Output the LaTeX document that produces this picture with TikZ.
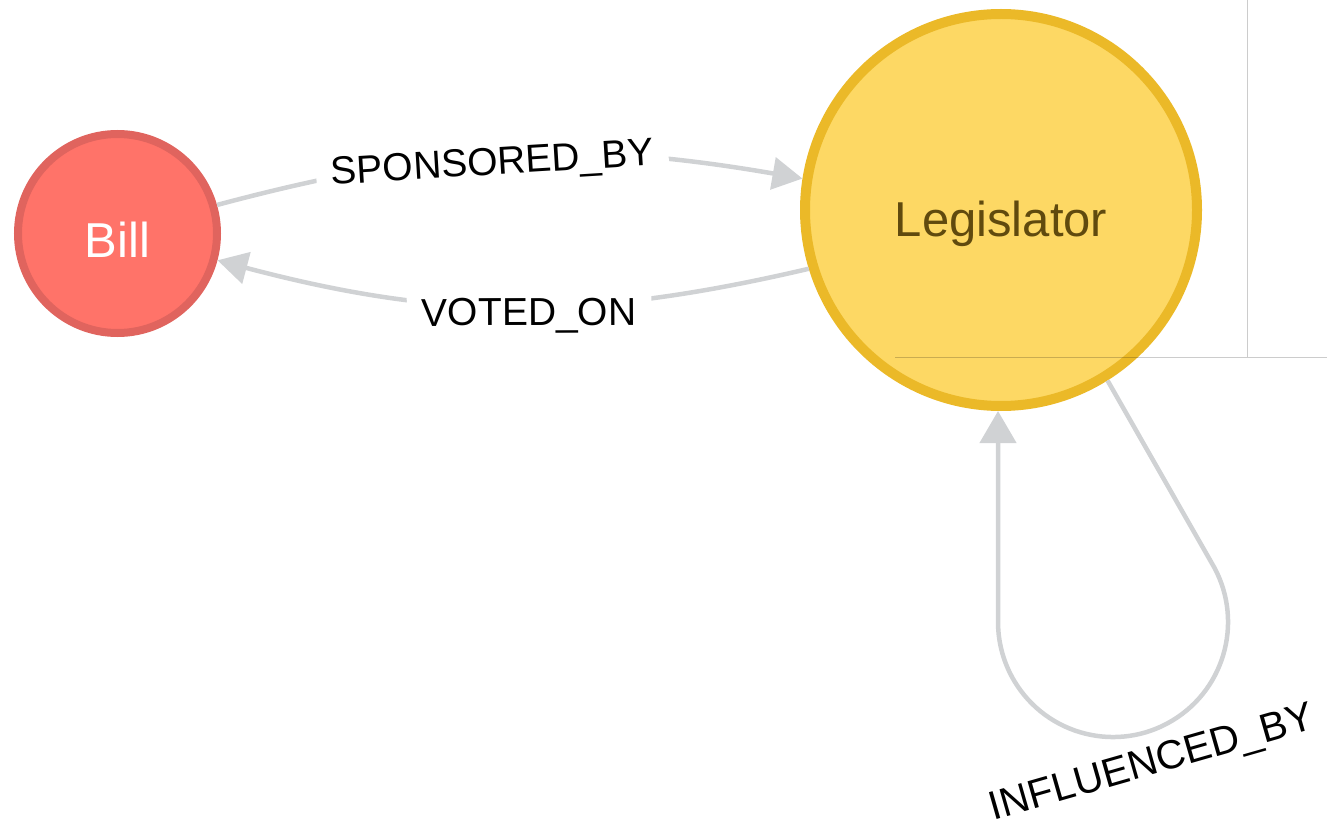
\documentclass[tikz,border=0pt]{standalone}
\usepackage{fontspec}
\setmainfont{Liberation Sans}
\usetikzlibrary{arrows.meta}
\definecolor{billfill}{HTML}{FF7369}
\definecolor{billdraw}{HTML}{E0645E}
\definecolor{legfill}{HTML}{FDD864}
\definecolor{legdraw}{HTML}{EBB928}
\definecolor{legtext}{HTML}{604A0E}
\definecolor{edgecol}{HTML}{D0D2D4}
\begin{document}
\begin{tikzpicture}[x=1pt,y=1pt,
  billnode/.style={circle, inner sep=0pt, draw=billdraw, fill=billfill, line width=8pt,
    minimum size=199pt, text=white, font=\fontsize{49}{58}\selectfont,
    text height=48pt, text depth=0pt},
  legnode/.style={circle, inner sep=0pt, draw=legdraw, fill=legfill, line width=10pt,
    minimum size=392pt, text=legtext, font=\fontsize{49}{58}\selectfont,
    text height=54pt, text depth=0pt},
  linkline/.style={draw=edgecol, line width=4.5pt},
  tipA/.style={-{Triangle[length=30pt,width=32pt]}},
  tipB/.style={-{Triangle[length=32pt,width=36pt]}},
  elabel/.style={font=\fontsize{39}{47}\selectfont, text=black, fill=white,
    inner xsep=15pt, inner ysep=2pt, text height=28pt, text depth=0pt},
  guide/.style={draw=black, draw opacity=0.2, line width=1pt}]
\useasboundingbox (0,0) rectangle (1327,-826);
\node[billnode] (bill) at (117.5,-233.5) {Bill};
\node[legnode] (leg) at (1001,-210) {Legislator};
\draw[linkline, tipA] (bill.16) to[bend left=12.4]
  node[elabel, sloped, pos=0.47, yshift=-5pt] (lsp) {SPONSORED\_BY} (leg.171);
\draw[linkline, tipA] (leg.197) to[bend left=14]
  node[elabel, sloped, pos=0.47, yshift=-5pt] (lvo) {VOTED\_ON} (bill.-15.5);
\coordinate (lt) at (1211.6,-562.8);
\coordinate (ll) at (998,-622);
\draw[linkline, tipB] (leg.-58.6) -- (lt)
  arc[start angle=31, end angle=-180, radius=115] -- (ll |- leg.south);
\node[elabel, fill=none, inner sep=0pt, rotate=16, font=\fontsize{40.5}{48}\selectfont]
  (linf) at (1151,-761) {INFLUENCED\_BY};
\coordinate (g1) at (1247,0);
\coordinate (g2) at (1247,-357);
\coordinate (g3) at (895,-357);
\coordinate (g4) at (1327,-357);
\draw[guide] (g1) -- (g2);
\draw[guide] (g3) -- (g4);
\end{tikzpicture}
\end{document}
